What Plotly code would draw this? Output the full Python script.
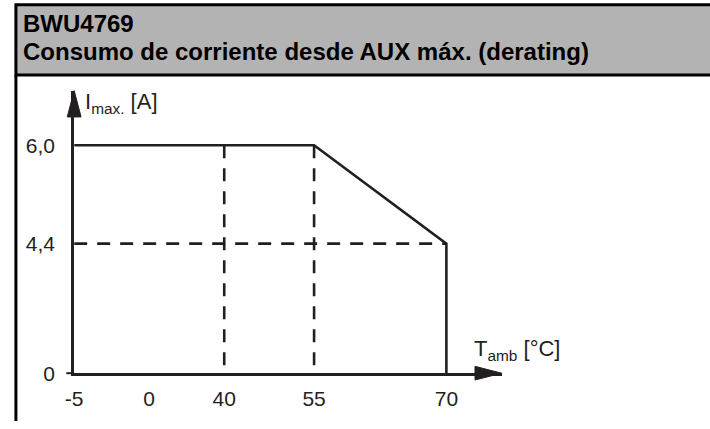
import numpy as np
import plotly.graph_objects as go

# ---------------- data ----------------
x_ticks = [-5, 0, 40, 55, 70]
x_tick_labels = ["-5", "0", "40", "55", "70"]
y_ticks = [0.0, 4.4, 6.0]
y_tick_labels = ["0", "4,4", "6,0"]

curve_temp = [-5, 55, 70, 70]
curve_current = [6.0, 6.0, 4.4, 0.0]

guide_h_temp = [-5, 70]
guide_h_current = [4.4, 4.4]
guide_v40_temp = [40, 40]
guide_v40_current = [6.0, 0.0]
guide_v55_temp = [55, 55]
guide_v55_current = [6.0, 0.0]

title_line1 = "BWU4769"
title_line2 = "Consumo de corriente desde AUX máx. (derating)"

# ---------------- schematic layout (non-linear drawing scale) ----------------
W, H = 710, 429
x_slot = [0, 76, 152, 243, 377]      # drawing position of each x tick
y_slot = [0, 133, 234]               # drawing position of each y tick
X0, X_TIP = 66, 499                  # pixel of axis origin / arrow tip
Y0, Y_TIP = 383, 93

def sx(t):
    return np.interp(t, x_ticks, x_slot)

def sy(c):
    return np.interp(c, y_ticks, y_slot)

def px(x):
    return x / W

def py(y):
    return 1 - y / H

INK = "#231f20"
FONT = "Liberation Sans, Arial, sans-serif"

fig = go.Figure()

dash = "13px,10px"
for tx, cy in [(guide_h_temp, guide_h_current),
               (guide_v40_temp, guide_v40_current),
               (guide_v55_temp, guide_v55_current)]:
    fig.add_trace(go.Scatter(x=sx(tx), y=sy(cy), mode="lines",
                             line=dict(color=INK, width=2.6, dash=dash),
                             hoverinfo="skip", showlegend=False))

fig.add_trace(go.Scatter(x=sx(curve_temp), y=sy(curve_current), mode="lines",
                         line=dict(color=INK, width=2.6),
                         hoverinfo="skip", showlegend=False))

shapes = []
# header band
shapes.append(dict(type="rect", xref="paper", yref="paper",
                   x0=px(7), x1=px(714), y0=py(77), y1=py(5),
                   fillcolor="#b3b3b3", line=dict(color="#000000", width=3),
                   layer="below"))
# left frame border
shapes.append(dict(type="line", xref="paper", yref="paper",
                   x0=px(7), x1=px(7), y0=py(77), y1=py(432),
                   line=dict(color="#000000", width=3)))
# arrowheads
shapes.append(dict(type="path", xref="paper", yref="paper",
                   path=f"M {px(X0-7)} {py(Y_TIP+27)} L {px(X0)} {py(Y_TIP)} L {px(X0+7)} {py(Y_TIP+27)} Z",
                   fillcolor=INK, line=dict(color=INK, width=1)))
shapes.append(dict(type="path", xref="paper", yref="paper",
                   path=f"M {px(X_TIP-27)} {py(Y0-7)} L {px(X_TIP)} {py(Y0)} L {px(X_TIP-27)} {py(Y0+7)} Z",
                   fillcolor=INK, line=dict(color=INK, width=1)))
# small tick at origin
shapes.append(dict(type="line", xref="paper", yref="paper",
                   x0=px(X0-8), x1=px(X0), y0=py(Y0), y1=py(Y0),
                   line=dict(color=INK, width=2)))

annotations = [
    dict(text=f"<b>{title_line1}</b>", xref="paper", yref="paper",
         x=px(12), y=py(24), xanchor="left", yanchor="middle", showarrow=False,
         font=dict(family=FONT, size=24, color="#000000")),
    dict(text=f"<b>{title_line2}</b>", xref="paper", yref="paper",
         x=px(12), y=py(53), xanchor="left", yanchor="middle", showarrow=False,
         font=dict(family=FONT, size=24, color="#000000")),
    dict(text="I<sub>max.</sub> [A]", xref="paper", yref="paper",
         x=px(75), y=py(106), xanchor="left", yanchor="middle", showarrow=False,
         font=dict(family=FONT, size=22, color=INK)),
    dict(text="T<sub>amb</sub> [°C]", xref="paper", yref="paper",
         x=px(469), y=py(359), xanchor="left", yanchor="middle", showarrow=False,
         font=dict(family=FONT, size=22, color=INK)),
]

fig.update_layout(
    width=W, height=H,
    margin=dict(l=0, r=0, t=0, b=0),
    paper_bgcolor="white", plot_bgcolor="white",
    shapes=shapes, annotations=annotations,
    xaxis=dict(domain=[px(X0), px(X_TIP)], range=[0, X_TIP - X0],
               tickvals=list(sx(x_ticks)), ticktext=x_tick_labels,
               showgrid=False, zeroline=False, showline=True,
               linecolor=INK, linewidth=3, ticks="", ticklabelstandoff=5,
               tickfont=dict(family=FONT, size=21, color=INK),
               fixedrange=True),
    yaxis=dict(domain=[1 - Y0 / H, 1 - Y_TIP / H], range=[0, Y0 - Y_TIP],
               tickvals=list(sy(y_ticks)), ticktext=y_tick_labels,
               showgrid=False, zeroline=False, showline=True,
               linecolor=INK, linewidth=3, ticks="", ticklabelstandoff=12,
               tickfont=dict(family=FONT, size=21, color=INK),
               fixedrange=True),
)

fig.write_html("out.html", config={"displayModeBar": False},
               post_script="document.body.style.margin='0px';")
